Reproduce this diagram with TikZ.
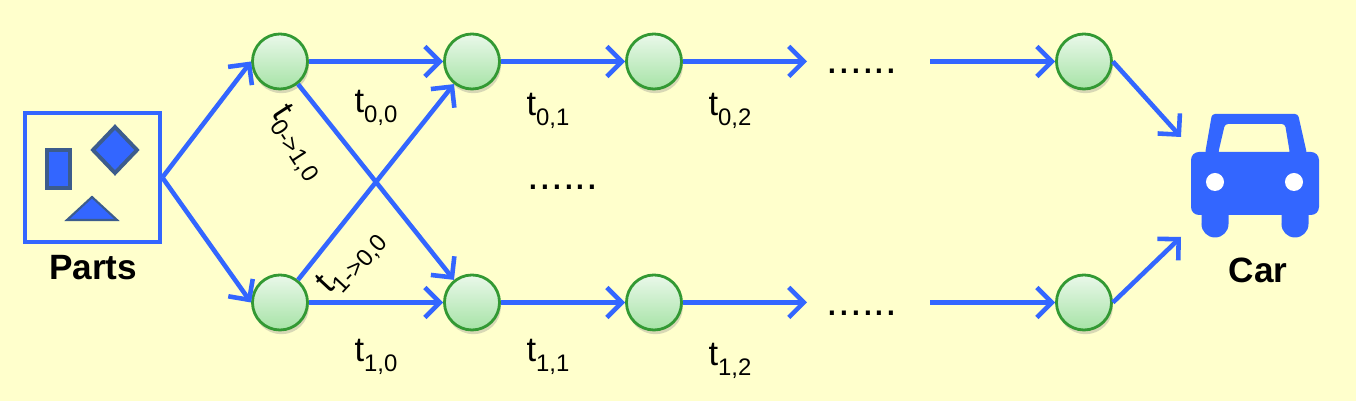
\documentclass[tikz,border=0pt]{standalone}
\usepackage{fontspec}
\setmainfont{Liberation Sans}
\usetikzlibrary{arrows.meta,shadows}
\definecolor{bgyellow}{HTML}{FFFFCC}
\definecolor{flowblue}{HTML}{3366FF}
\definecolor{partedge}{HTML}{3C5C8C}
\definecolor{nodegreen}{HTML}{339933}
\definecolor{nodetop}{HTML}{EAF8EA}
\definecolor{nodebot}{HTML}{A6E3A6}
\newcommand{\tlab}[1]{t\raisebox{-2.6pt}{\fontsize{6.8}{7}\selectfont #1}}
\tikzset{
	stage/.style={circle,draw=nodegreen,line width=0.8pt,minimum size=0.55cm,inner sep=0pt,
		top color=nodetop,bottom color=nodebot,
		drop shadow={shadow xshift=0.4pt,shadow yshift=-1.2pt,opacity=0.3}},
	flow/.style={draw=flowblue,line width=1.3pt,-{Straight Barb[length=1.5mm,width=3mm]}},
	lab/.style={font=\fontsize{9.8}{11}\selectfont,inner sep=0pt,anchor=base},
	dots/.style={font=\fontsize{12}{14}\selectfont,inner sep=0pt,anchor=base},
	partpiece/.style={fill=flowblue,draw=partedge},
	bold/.style={font=\bfseries\fontsize{10}{12}\selectfont,inner sep=0pt}
}
\begin{document}
\begin{tikzpicture}[x=0.01cm,y=-0.01cm]
	\fill[bgyellow] (0,0) rectangle (1356,401);
	\useasboundingbox (0,0) rectangle (1356,401);
	% parts box
	\node[draw=flowblue,line width=1.3pt,minimum width=1.35cm,minimum height=1.29cm,inner sep=0pt] (parts) at (92.5,177.5) {};
	\draw[partpiece,line width=1.1pt] (47,150) rectangle (70,188);
	\draw[partpiece,line width=1.1pt] (115,127) -- (137,150) -- (115,173) -- (93,150) -- cycle;
	\draw[partpiece,line width=0.6pt] (92,197) -- (117,220) -- (67,220) -- cycle;
	\node[bold] (partslab) at (93,268) {Parts};
	% stages
	\node[stage] (s00) at (280,61.5) {};
	\node[stage] (s01) at (472,61.5) {};
	\node[stage] (s02) at (654,61.5) {};
	\node[stage] (s0n) at (1084,61.5) {};
	\node[stage] (s10) at (280,302.5) {};
	\node[stage] (s11) at (472,302.5) {};
	\node[stage] (s12) at (654,302.5) {};
	\node[stage] (s1n) at (1084,302.5) {};
	\coordinate (gap0a) at (807,61.5);
	\coordinate (gap0b) at (930,61.5);
	\coordinate (gap1a) at (807,302.5);
	\coordinate (gap1b) at (930,302.5);
	\coordinate (cartop) at (1181,137);
	\coordinate (carbot) at (1181,237);
	% arrows
	\draw[flow] (parts.east) -- (s00.west);
	\draw[flow] (parts.east) -- (s10.west);
	\draw[flow] (s00) -- (s01);
	\draw[flow] (s01) -- (s02);
	\draw[flow] (s02) -- (gap0a);
	\draw[flow] (gap0b) -- (s0n);
	\draw[flow] (s10) -- (s11);
	\draw[flow] (s11) -- (s12);
	\draw[flow] (s12) -- (gap1a);
	\draw[flow] (gap1b) -- (s1n);
	\draw[flow] (s00) -- (s11);
	\draw[flow] (s10) -- (s01);
	\draw[flow] (s0n.east) -- (cartop);
	\draw[flow] (s1n.east) -- (carbot);
	% labels
	\node[lab] (l00) at (376,113) {\tlab{0,0}};
	\node[lab] (l01) at (548,116) {\tlab{0,1}};
	\node[lab] (l02) at (730,116) {\tlab{0,2}};
	\node[lab] (l10) at (376,362) {\tlab{1,0}};
	\node[lab] (l11) at (548,362) {\tlab{1,1}};
	\node[lab] (l12) at (730,366) {\tlab{1,2}};
	\node[lab,anchor=center,rotate=-57] (l001) at (297,143) {\tlab{0->1,0}};
	\node[lab,anchor=center,rotate=47] (l100) at (352,263) {\tlab{1->0,0}};
	\node[dots] (d0) at (862,74) {......};
	\node[dots] (dm) at (563,190) {......};
	\node[dots] (d1) at (862,316) {......};
	% car
	\fill[flowblue,rounded corners=0.08cm] (1191,152) rectangle (1319,215);
	\fill[flowblue,even odd rule,rounded corners=0.03cm] (1205,154) -- (1212,114) -- (1298,114) -- (1307,154) -- cycle
		(1218,154) -- (1225,124) -- (1285,124) -- (1290,154) -- cycle;
	\fill[white] (1215,182) circle (0.09cm) (1294,182) circle (0.09cm);
	\fill[flowblue] (1201.5,210) rectangle (1228.5,224) (1215,224) circle (0.135cm);
	\fill[flowblue] (1281.5,210) rectangle (1308.5,224) (1295,224) circle (0.135cm);
	\node[bold] (carlab) at (1258,270) {Car};
\end{tikzpicture}
\end{document}
